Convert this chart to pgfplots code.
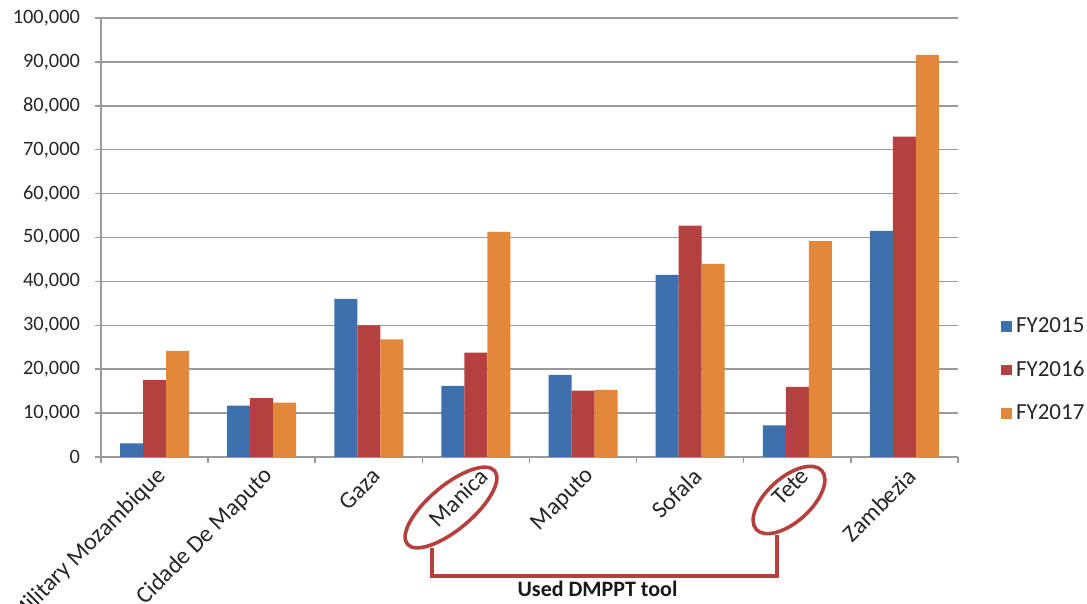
\documentclass[border=0pt]{standalone}
\usepackage{pgfplots}
\pgfplotsset{compat=1.18}
\usepackage{fontspec}
\setmainfont{Carlito}
\definecolor{c15}{HTML}{3E70AE}
\definecolor{c16}{HTML}{B4403F}
\definecolor{c17}{HTML}{E3873A}
\definecolor{gridc}{HTML}{9A9A9A}
\definecolor{annot}{HTML}{B5413F}
\pgfplotsset{sqleg/.style={legend image code/.code={\fill[##1,draw=none] (0pt,-2.7pt) rectangle (5.4pt,2.7pt);}}}
\begin{document}
\begin{tikzpicture}
\useasboundingbox (0,0) rectangle (543.5pt,302pt);
\begin{axis}[
 at={(50.5pt,73.5pt)}, anchor=south west,
 scale only axis, width=428.5pt, height=219.5pt,
 xmin=-0.5, xmax=7.5, ymin=0, ymax=100000,
 ybar=0pt, bar width=11.5pt,
 axis x line*=bottom, axis y line*=left,
 axis line style={gridc, line width=0.75pt},
 tick align=outside,
 xtick={0,...,7},
 xticklabels={Military Mozambique, Cidade De Maputo, Gaza, Manica, Maputo, Sofala, Tete, Zambezia},
 major x tick style={draw=none},
 minor xtick={-0.5,0.5,...,7.5},
 minor tick length=3pt, major tick length=3pt,
 ytick={0,10000,...,100000},
 scaled y ticks=false,
 /pgf/number format/.cd, fixed, 1000 sep={,}, assume math mode=true,
 /pgfplots/.cd,
 ymajorgrids, grid style={gridc, line width=0.75pt},
 tick style={gridc, line width=0.75pt},
 ticklabel style={text=black!85},
 yticklabel style={font=\fontsize{10.2}{12}\selectfont, xshift=-4pt},
 xticklabel style={font=\fontsize{12}{14}\selectfont, rotate=45, anchor=east, xshift=3pt, yshift=-6pt},
 legend style={at={(1.043,0.198)}, anchor=west, draw=none, fill=none,
   font=\fontsize{11.5}{13}\selectfont, text=black!85, row sep=8.5pt},
 legend cell align=left,
 clip=false,
]
\addplot[fill=c15, draw=none, sqleg] coordinates {(0,3100) (1,11700) (2,36000) (3,16200) (4,18700) (5,41500) (6,7200) (7,51500)};
\addplot[fill=c16, draw=none, sqleg] coordinates {(0,17500) (1,13400) (2,30000) (3,23800) (4,15100) (5,52700) (6,16000) (7,73000)};
\addplot[fill=c17, draw=none, sqleg] coordinates {(0,24200) (1,12400) (2,26800) (3,51300) (4,15300) (5,44000) (6,49200) (7,91600)};
\legend{FY2015, FY2016, FY2017}
\end{axis}
\draw[annot, line width=1.8pt, shift={(225.5pt,48.25pt)}, rotate=40] (0,0) ellipse [x radius=28.5pt, y radius=11pt];
\draw[annot, line width=1.8pt, shift={(394.5pt,52pt)}, rotate=42] (0,0) ellipse [x radius=22pt, y radius=11pt];
\draw[annot, line width=2pt] (216pt,28pt) -- (216pt,14pt) -- (388.5pt,14pt) -- (388.5pt,34.5pt);
\node[anchor=base, font=\bfseries\fontsize{11}{13}\selectfont, text=black!90, inner sep=0pt] at (298.75pt,3.5pt) {Used DMPPT tool};
\end{tikzpicture}
\end{document}
